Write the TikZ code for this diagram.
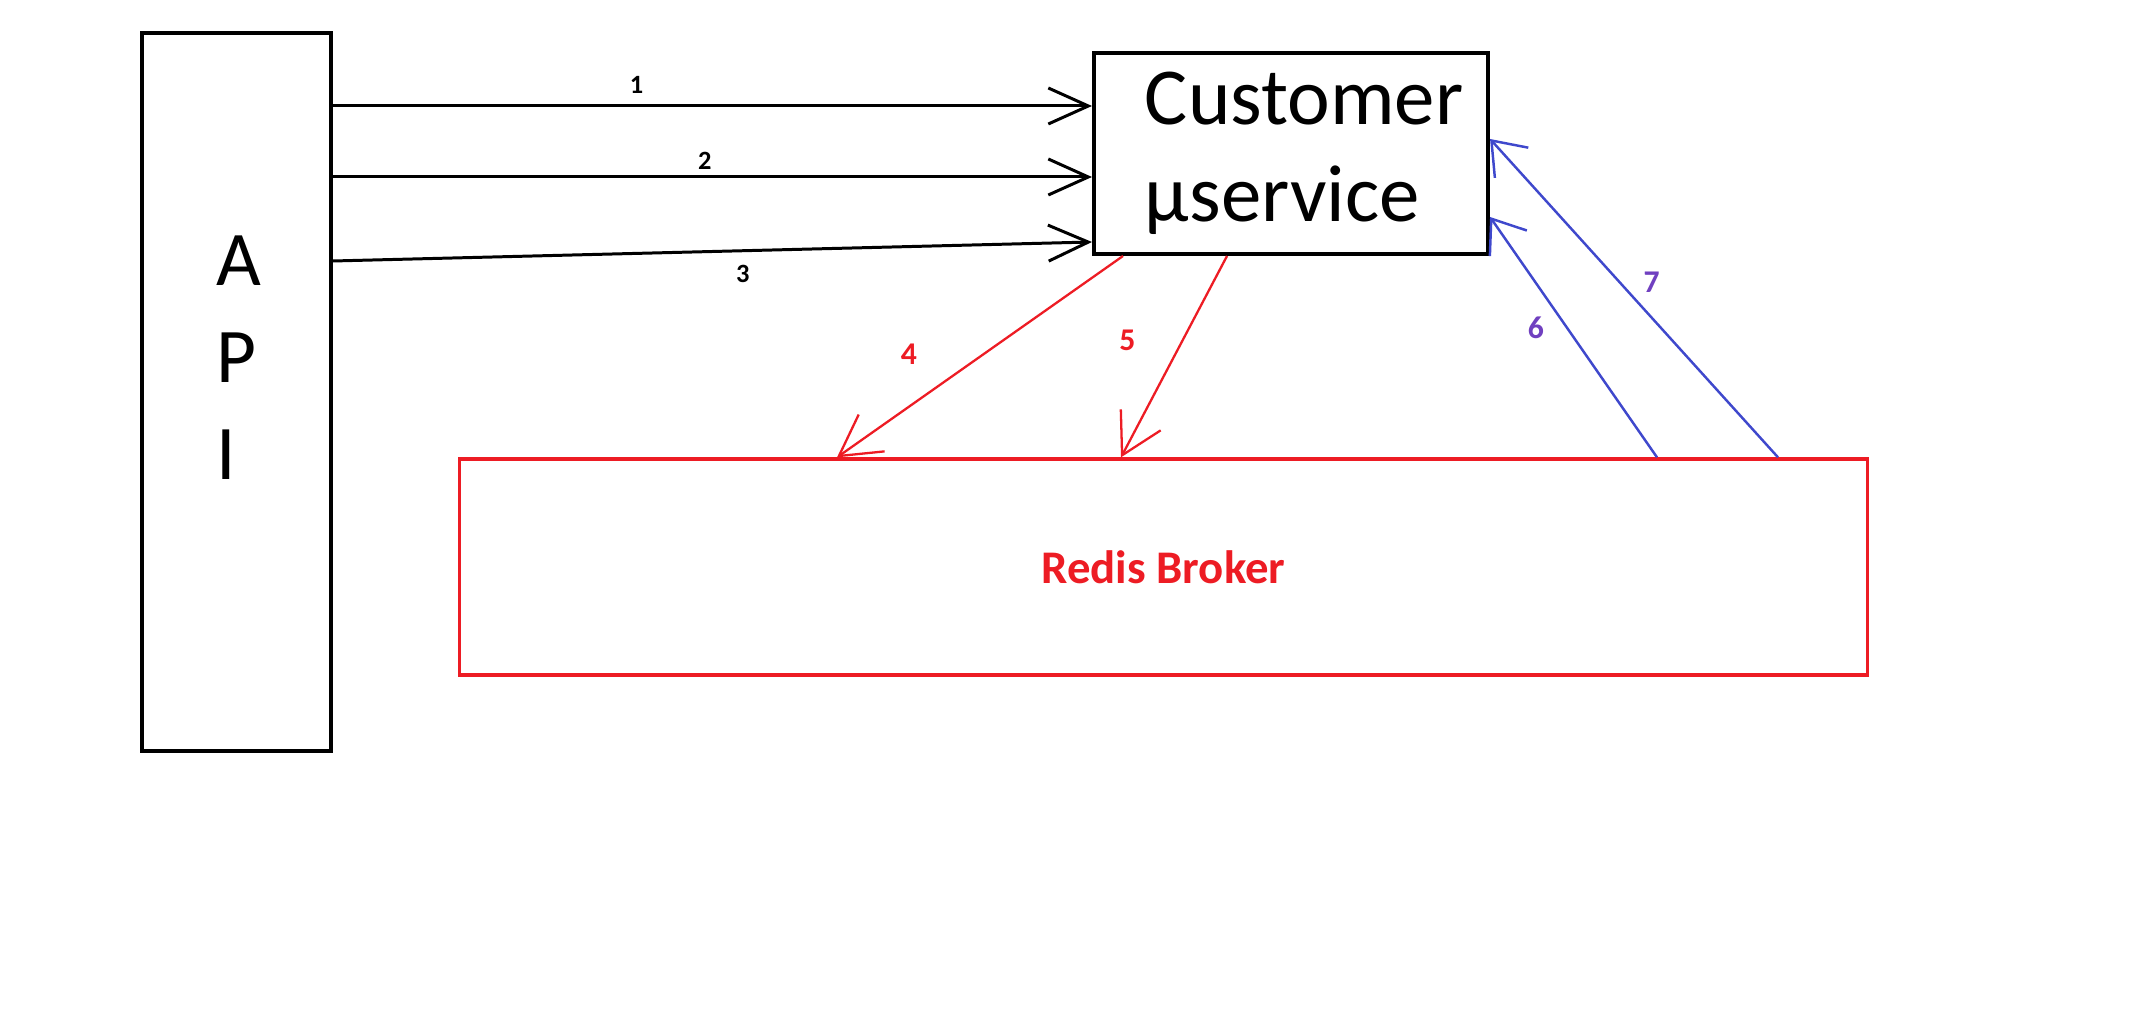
\documentclass[tikz,border=0pt]{standalone}
\usepackage{fontspec}
\setmainfont{Carlito}
\usetikzlibrary{arrows.meta}
\definecolor{paintred}{RGB}{237,28,36}
\definecolor{paintblue}{RGB}{63,72,204}
\definecolor{numpurple}{RGB}{112,64,192}

\begin{document}
\begin{tikzpicture}[x=0.01cm,y=-0.01cm,
  box/.style={draw,line width=1pt,inner sep=0pt},
  call/.style={line width=0.85pt,-{Straight Barb[length=4mm,width=3.6mm]}},
  push/.style={paintred,line width=0.65pt,-{Straight Barb[length=4mm,width=4.5mm]}},
  reply/.style={paintblue,line width=0.7pt,-{Straight Barb[length=3mm,width=4.5mm]}},
  num/.style={font=\fontsize{7.5}{9}\selectfont\bfseries}]
  \useasboundingbox (0,0) rectangle (2152,1016);

  \node[box,minimum width=1.89cm,minimum height=7.18cm] (api) at (236.5,392) {};
  \node[anchor=north west,inner sep=0pt,align=left,font=\fontsize{22}{27.6}\selectfont] (apitxt) at (216,235) {A\\P\\I};
  \node[box,line width=1.1pt,inner xsep=0.51cm,text width=2.92cm,minimum height=2.01cm,align=left,font=\fontsize{23}{27.6}\selectfont] (cust) at (1291,153.5) {Customer\\µservice};
  \node[box,draw=paintred,line width=0.9pt,minimum width=14.07cm,minimum height=2.16cm,text=paintred,font=\fontsize{13.3}{16}\selectfont\bfseries] (redis) at (1163.5,567) {Redis Broker};

  % heights and offsets where the arrows meet the boxes
  \coordinate (y1) at (0,106);
  \coordinate (y2) at (0,177);
  \coordinate (y3a) at (0,261);
  \coordinate (y3b) at (0,242);
  \coordinate (x4a) at (1123,0);
  \coordinate (x4b) at (837,0);
  \coordinate (x5a) at (1227,0);
  \coordinate (x5b) at (1121,0);
  \coordinate (x6) at (1657,0);
  \coordinate (y6) at (0,217);
  \coordinate (x7) at (1778,0);
  \coordinate (y7) at (0,139);

  \path[call]
    (api.east |- y1) edge node[num,pos=0.4,yshift=0.21cm]{1} (cust.west |- y1)
    (api.east |- y2) edge node[num,pos=0.49,yshift=0.16cm]{2} (cust.west |- y2)
    (api.east |- y3a) edge node[num,pos=0.54,yshift=-0.23cm]{3} (cust.west |- y3b);

  \path[push,num/.append style={font=\fontsize{9}{11}\selectfont\bfseries}]
    (cust.south -| x4a) edge node[num,pos=0.49,xshift=-0.74cm]{4} (redis.north -| x4b)
    (cust.south -| x5a) edge node[num,pos=0.42,xshift=-0.55cm]{5} (redis.north -| x5b);

  \path[reply,num/.append style={font=\fontsize{9}{11}\selectfont\bfseries,text=numpurple}]
    (redis.north -| x6) edge node[num,pos=0.54,xshift=-0.31cm]{6} (cust.east |- y6)
    (redis.north -| x7) edge node[num,pos=0.55,xshift=0.32cm]{7} (cust.east |- y7);
\end{tikzpicture}
\end{document}
